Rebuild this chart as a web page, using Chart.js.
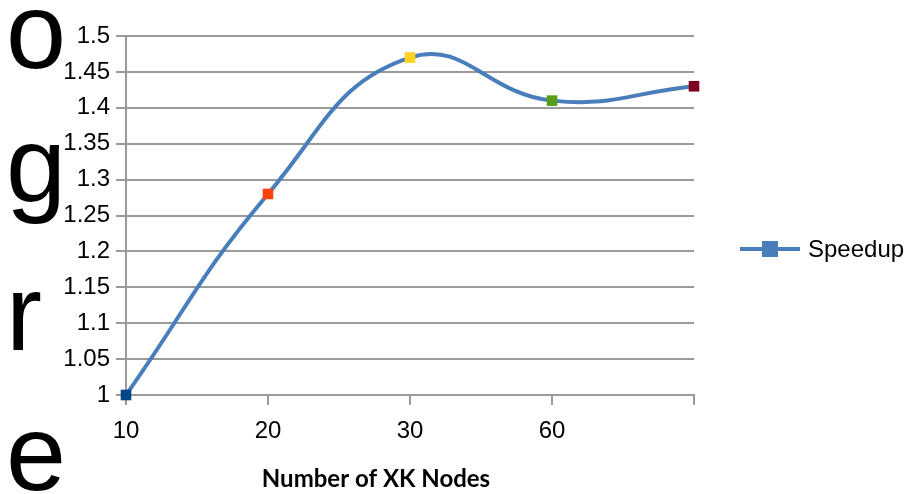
<!DOCTYPE html>
<html>
<head>
<meta charset="utf-8">
<script src="https://cdn.jsdelivr.net/npm/chart.js@4.4.1/dist/chart.umd.min.js"></script>
<style>
  html, body { margin: 0; padding: 0; background: #ffffff; }
  #wrap { width: 916px; height: 494px; position: relative; }
</style>
</head>
<body>
<div id="wrap"><canvas id="chart" width="916" height="494"></canvas></div>
<script>
// Data
const nodeLabels = ['10', '20', '30', '60', ''];
const speedup = [1.00, 1.28, 1.47, 1.41, 1.43];
const pointColors = ['#004586', '#ff420e', '#ffd320', '#579d1c', '#7e0021'];
const seriesName = 'Speedup';
const xTitle = 'Number of XK Nodes';
const sideLetters = ['o', 'g', 'r', 'e'];

const lineColor = '#4a7ebb';
const gridColor = '#9a9a9a';
const tickFont = { family: 'Liberation Sans', size: 24 };

// Draws the stacked side lettering, the axis caption and the legend entry
const decorations = {
  id: 'decorations',
  afterDraw(chart) {
    const ctx = chart.ctx;
    ctx.save();
    ctx.fillStyle = '#000000';
    ctx.textAlign = 'left';
    ctx.textBaseline = 'alphabetic';
    ctx.font = '108px "Liberation Sans"';
    const baselines = [68, 202, 350, 490];
    sideLetters.forEach((ch, i) => ctx.fillText(ch, 6, baselines[i]));

    // axis caption
    ctx.font = 'bold 24px Lato';
    ctx.textAlign = 'center';
    ctx.textBaseline = 'middle';
    ctx.fillText(xTitle, 376, 479);

    // legend entry
    const ly = 249;
    const lx0 = 740, lx1 = 800;
    ctx.strokeStyle = lineColor;
    ctx.lineWidth = 4;
    ctx.beginPath();
    ctx.moveTo(lx0, ly);
    ctx.lineTo(lx1, ly);
    ctx.stroke();
    ctx.fillStyle = lineColor;
    ctx.fillRect((lx0 + lx1) / 2 - 8, ly - 8, 16, 16);
    ctx.fillStyle = '#000000';
    ctx.font = '24px "Liberation Sans"';
    ctx.textAlign = 'left';
    ctx.fillText(seriesName, 808, ly + 1);
    ctx.restore();
  }
};

new Chart(document.getElementById('chart'), {
  type: 'line',
  data: {
    labels: nodeLabels,
    datasets: [{
      label: seriesName,
      data: speedup,
      borderColor: lineColor,
      backgroundColor: lineColor,
      borderWidth: 4,
      tension: 0.45,
      clip: false,
      pointStyle: 'rect',
      pointRadius: 7.5,
      pointHoverRadius: 7.5,
      pointBorderWidth: 0,
      pointBackgroundColor: pointColors,
      pointBorderColor: pointColors,
      fill: false
    }]
  },
  options: {
    responsive: false,
    animation: false,
    devicePixelRatio: 1,
    layout: { padding: { left: 0, right: 222, top: 36, bottom: 0 } },
    plugins: {
      legend: { display: false },
      tooltip: { enabled: false },
      title: { display: false }
    },
    scales: {
      x: {
        type: 'category',
        offset: false,
        grid: {
          display: true,
          drawOnChartArea: false,
          drawTicks: true,
          tickLength: 10,
          color: gridColor,
          lineWidth: 2
        },
        border: { display: true, color: gridColor, width: 2 },
        ticks: {
          color: '#000000',
          font: tickFont,
          padding: 12,
          maxRotation: 0,
          autoSkip: false
        },
        afterFit(scale) { scale.height = 99; }
      },
      y: {
        min: 1,
        max: 1.5,
        ticks: {
          stepSize: 0.05,
          color: '#000000',
          font: tickFont,
          padding: 6,
          callback: (v) => String(Number(v.toFixed(2)))
        },
        grid: {
          color: gridColor,
          lineWidth: 2,
          drawTicks: true,
          tickLength: 10
        },
        border: { display: true, color: gridColor, width: 2 },
        afterFit(scale) { scale.width = 126; }
      }
    }
  },
  plugins: [decorations]
});
</script>
</body>
</html>
